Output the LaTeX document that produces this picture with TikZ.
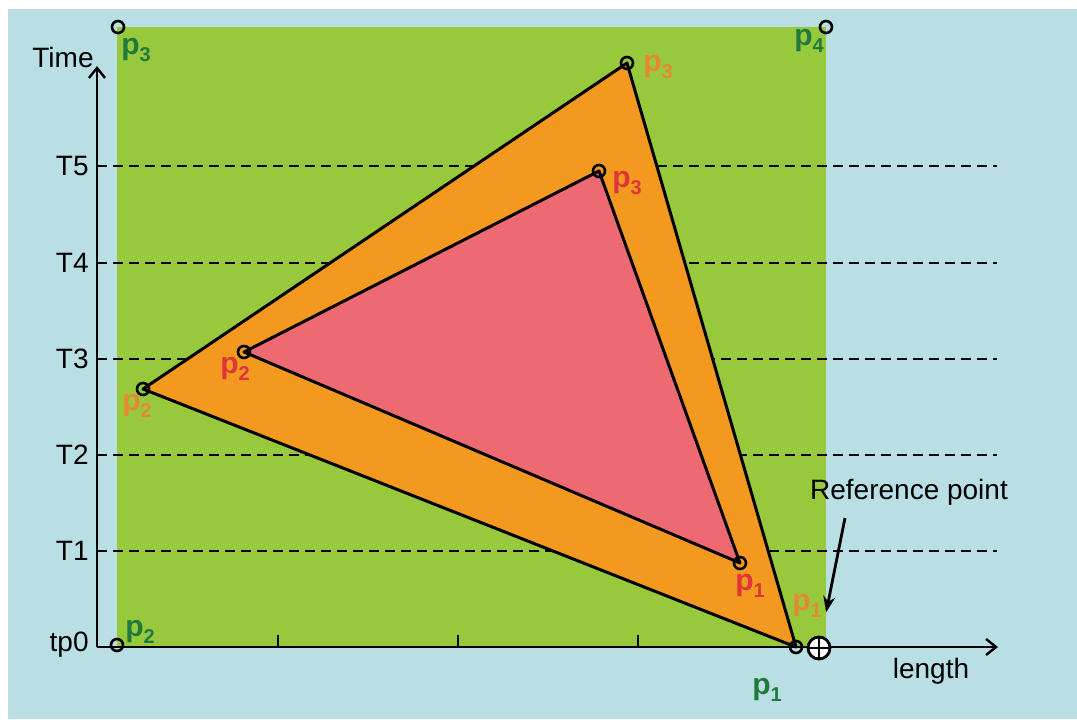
\documentclass[tikz,border=0pt]{standalone}
\usepackage{fontspec}
\setmainfont{Liberation Sans}
\usepackage{tikz}
\usetikzlibrary{arrows.meta,calc}
\definecolor{bgcolor}{RGB}{185, 223, 228}
\definecolor{fieldcolor}{RGB}{152, 200, 60}
\definecolor{outercolor}{RGB}{244, 153, 32}
\definecolor{innercolor}{RGB}{238, 106, 114}
\definecolor{greenlabel}{RGB}{32, 122, 62}
\definecolor{orangelabel}{RGB}{232, 135, 50}
\definecolor{redlabel}{RGB}{222, 52, 58}
\newcommand{\pname}[1]{p\raisebox{-0.45ex}{\fontsize{10}{10}\selectfont\bfseries #1}}
\tikzset{
axistext/.style={
  font=\fontsize{14}{16}\selectfont,
  text=black,
  inner sep=0pt
},
plabel/.style={
  font=\fontsize{15}{17}\selectfont\bfseries,
  inner sep=0pt
},
glabel/.style={plabel, text=greenlabel},
olabel/.style={plabel, text=orangelabel},
rlabel/.style={plabel, text=redlabel},
vtx/.style={
  draw=black,
  line width=1.3pt,
  circle,
  inner sep=0pt,
  minimum size=6pt
},
edge/.style={
  draw=black,
  line width=1.5pt,
  line join=round
},
axis/.style={
  -{Straight Barb[length=5pt,width=8pt]},
  line width=1.2pt
},
timeline/.style={
  dashed,
  dash pattern=on 5pt off 3pt,
  line width=1.1pt
},
refarrow/.style={
  -{Stealth[length=8pt,width=6pt]},
  line width=1.4pt,
  shorten >=12pt
}
}

\begin{document}
\begin{tikzpicture}[x=0.5pt, y=-0.5pt]
        \useasboundingbox (0,0) rectangle (1077,719);
        % background and field
        \fill[white] (0,0) rectangle (1077,719);
        \fill[bgcolor] (8,9) rectangle (1077,719);
        \fill[fieldcolor] (117,27) rectangle (826,647);

        % axes
        \coordinate (O) at (97,647);
        \coordinate (ytop) at (97,66);
        \coordinate (xend) at (998,647);
        \node[axistext] (time) at (63,57) {Time};
        \node[axistext] (len) at (931,671) {length};
        \node[axistext, anchor=east] (tp0) at (89,645) {tp0};

        % time levels
        \foreach \name/\yy in {T5/166, T4/263, T3/359, T2/455, T1/551} {
          \node[axistext, anchor=east] (\name) at (89,\yy) {\name};
          \draw[timeline] (97,\yy) -- (997,\yy);
        }

        % outer triangle
        \coordinate (op1) at (796,647);
        \coordinate (op2) at (143,389);
        \coordinate (op3) at (627,63);
        \filldraw[edge, fill=outercolor] (op1) -- (op2) -- (op3) -- cycle;

        % inner triangle
        \coordinate (ip1) at (740,563);
        \coordinate (ip2) at (244,352);
        \coordinate (ip3) at (599,171);
        \filldraw[edge, fill=innercolor] (ip1) -- (ip2) -- (ip3) -- cycle;

        \draw[axis] (O) -- (ytop);
        \draw[axis] (O) -- (xend);
        \foreach \xx in {278, 458, 638}
          \draw[line width=1.1pt] (\xx,647) -- (\xx,635);

        % vertex markers
        \foreach \pt in {op1, op2, op3, ip1, ip2, ip3}
          \node[vtx] (m\pt) at (\pt) {};
        \node[vtx] (gp3) at (118,27) {};
        \node[vtx] (gp4) at (826,27) {};
        \node[vtx] (gp2) at (117,645) {};

        % vertex labels
        \node[glabel] at (136,50) {\pname{3}};
        \node[glabel] at (809,41) {\pname{4}};
        \node[glabel] at (140,632) {\pname{2}};
        \node[glabel] at (767,690) {\pname{1}};
        \node[olabel] at (658,67) {\pname{3}};
        \node[olabel] at (137,406) {\pname{2}};
        \node[olabel] at (807,606) {\pname{1}};
        \node[rlabel] at (627,183) {\pname{3}};
        \node[rlabel] at (235,369) {\pname{2}};
        \node[rlabel] at (750,586) {\pname{1}};

        % reference point
        \node[draw, circle, line width=1.4pt, fill=white, minimum size=11pt, inner sep=0pt] (refsym) at (819,648) {};
        \draw[line width=1.4pt] (refsym.north) -- (refsym.south);
        \draw[line width=1.4pt] (refsym.west) -- (refsym.east);
        \node[axistext] (reftext) at (909,492) {Reference point};
        \coordinate (arrowstart) at (845,518);
        \draw[refarrow] (arrowstart) -- (refsym);
      \end{tikzpicture}
\end{document}
